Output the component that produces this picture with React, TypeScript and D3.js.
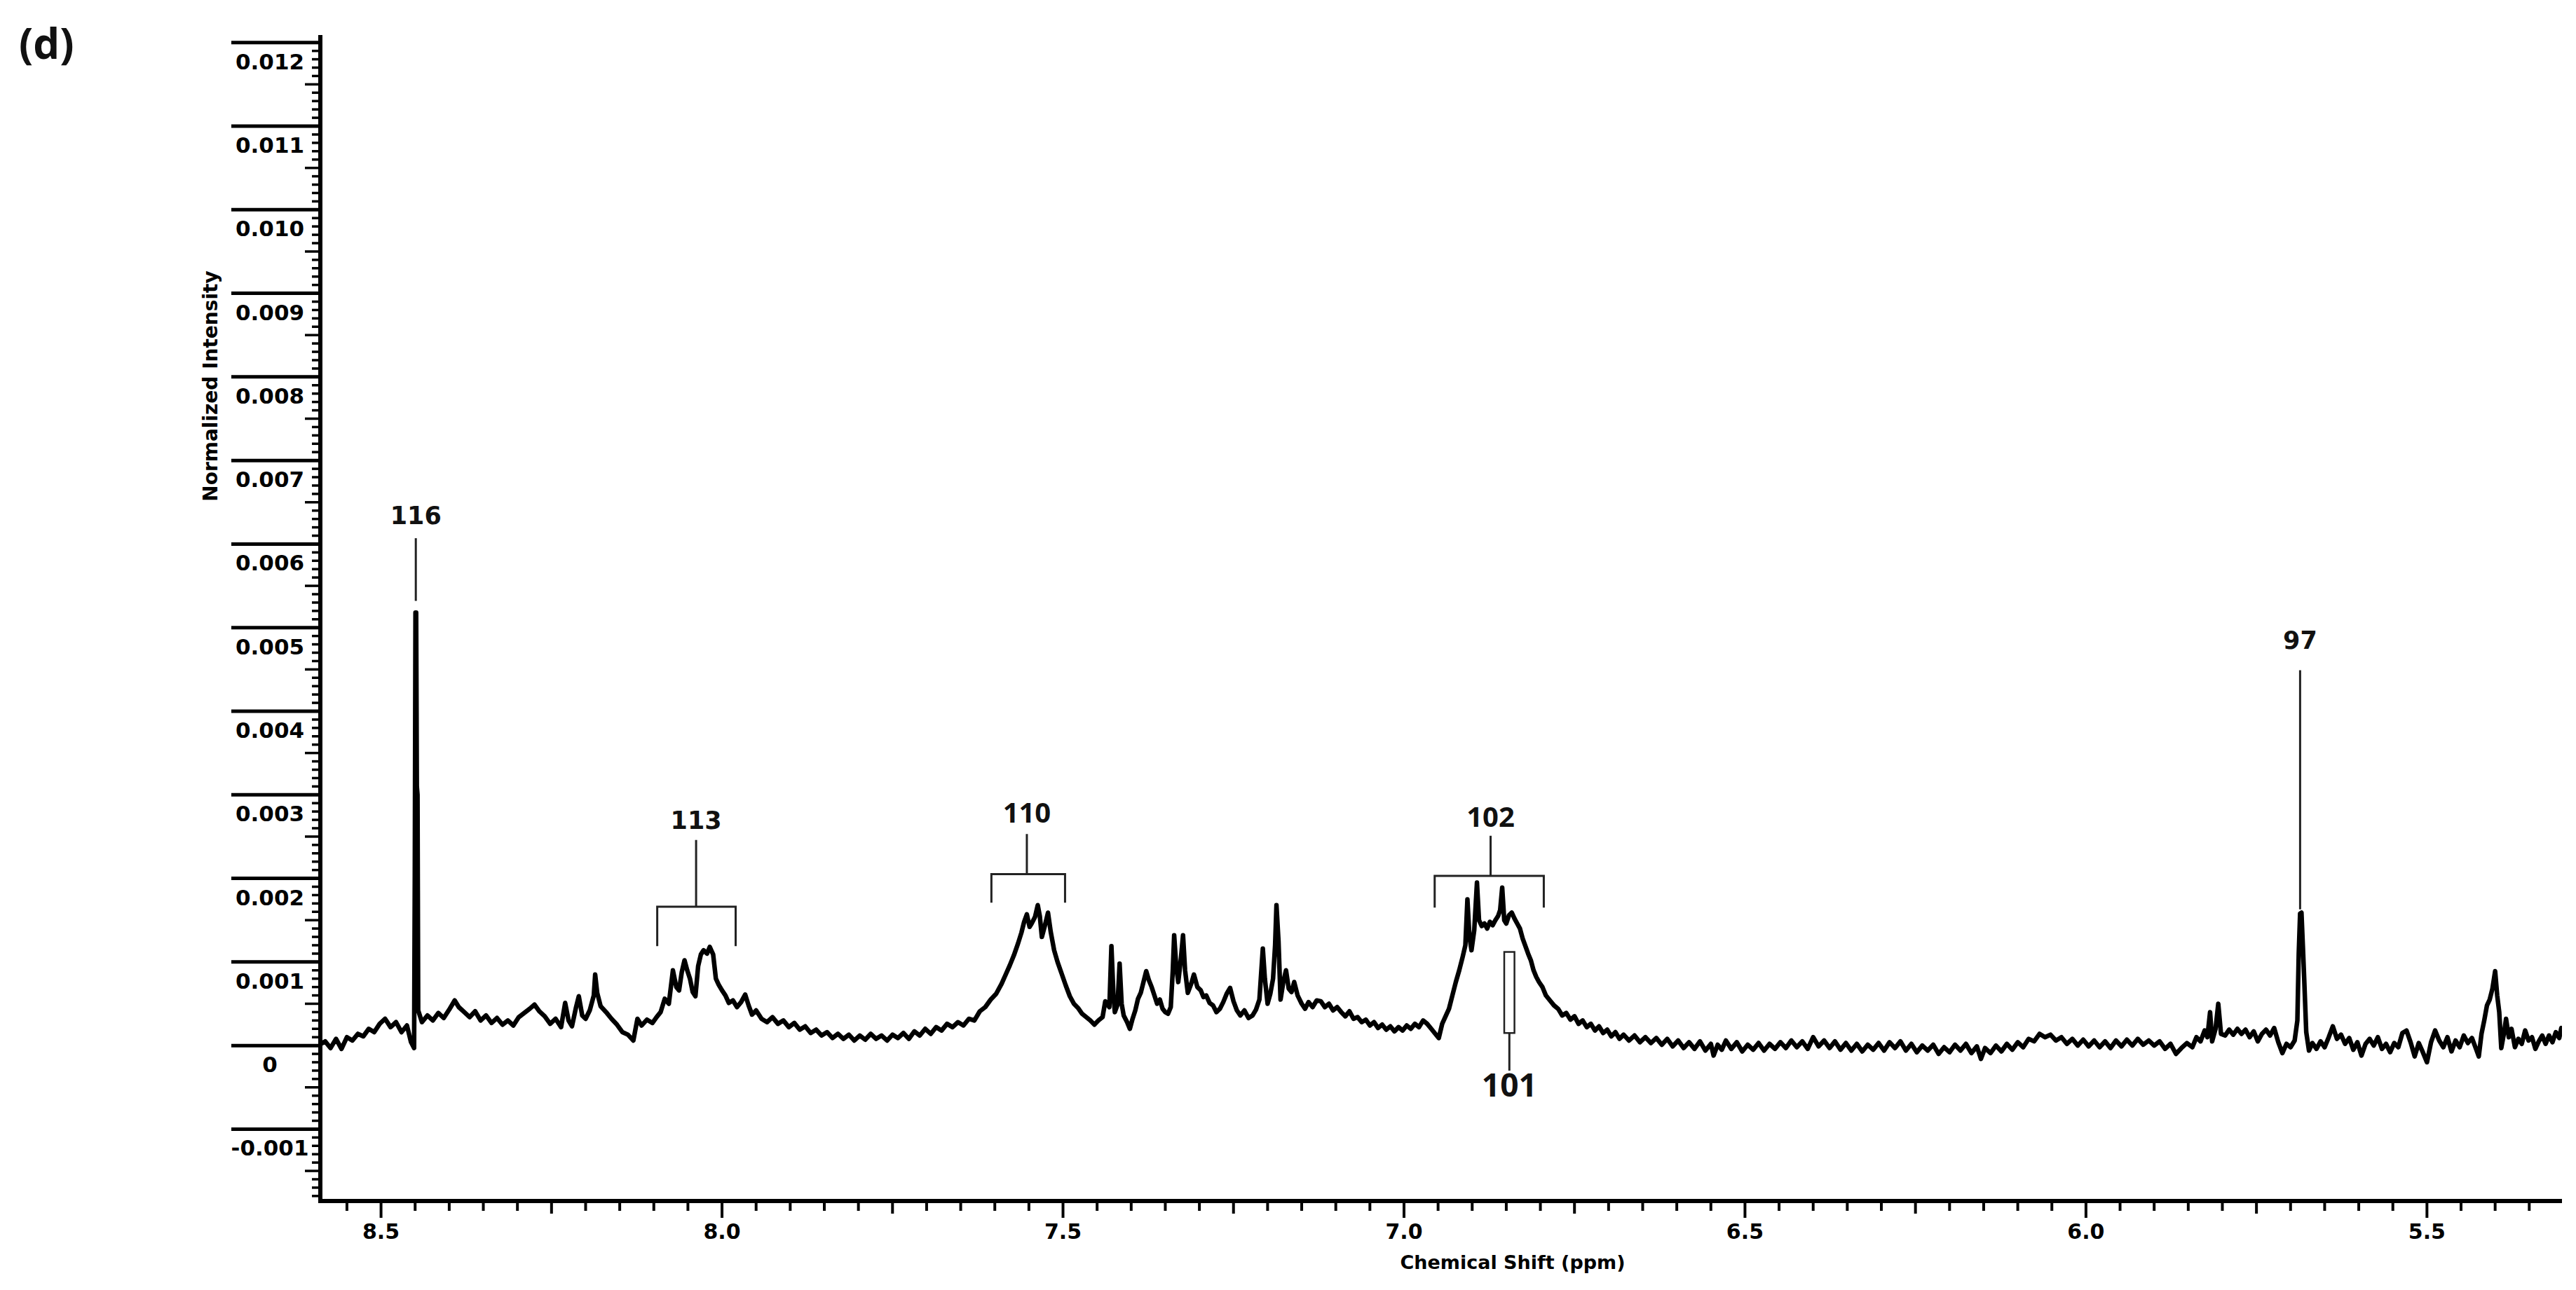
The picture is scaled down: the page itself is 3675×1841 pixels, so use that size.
import React from "react";
import * as d3 from "d3";

// ---------- axis definitions ----------
const xDomainPpm = [8.589, 5.302];
const yDomainIntensity = [-0.00186, 0.01209];

const xTickValues = [8.5, 8.0, 7.5, 7.0, 6.5, 6.0, 5.5];
const xTickLabels = ["8.5", "8.0", "7.5", "7.0", "6.5", "6.0", "5.5"];

const yTickValues = [-0.001, 0, 0.001, 0.002, 0.003, 0.004, 0.005, 0.006, 0.007, 0.008, 0.009, 0.01, 0.011, 0.012];
const yTickLabels = ["-0.001", "0", "0.001", "0.002", "0.003", "0.004", "0.005", "0.006", "0.007", "0.008", "0.009", "0.010", "0.011", "0.012"];

const xTitle = "Chemical Shift (ppm)";
const yTitle = "Normalized Intensity";
const panelLabel = "(d)";

// ---------- spectrum: [chemical shift (ppm), intensity in units of 1e-4] ----------
const INTENSITY_UNIT = 1e-4;

const specStart: [number, number][] = [
  [8.588, 0.2], [8.582, 0.5], [8.574, -0.3], [8.566, 0.8], [8.558, -0.4], [8.55, 1.0], [8.542, 0.6], [8.534, 1.4],
  [8.526, 1.1], [8.518, 2.0], [8.51, 1.6], [8.502, 2.6], [8.494, 3.2], [8.486, 2.2], [8.478, 2.8], [8.47, 1.6],
  [8.462, 2.4], [8.456, 0.4], [8.4515, -0.3], [8.4505, 20], [8.4495, 51.8], [8.4485, 51.8], [8.4475, 31],
  [8.4465, 30], [8.4455, 4.2],
];

const specUpfield116: [number, number][] = [
  [8.44, 2.8], [8.432, 3.6], [8.424, 3.0], [8.416, 3.9], [8.408, 3.3], [8.4, 4.3], [8.392, 5.4], [8.386, 4.6],
  [8.378, 4.0], [8.37, 3.4], [8.362, 4.1], [8.354, 3.0], [8.346, 3.6], [8.338, 2.7], [8.33, 3.3], [8.322, 2.5],
  [8.314, 3.0], [8.306, 2.4], [8.298, 3.4], [8.29, 3.9], [8.282, 4.4], [8.275, 4.9], [8.268, 4.1], [8.26, 3.5],
  [8.252, 2.6], [8.244, 3.2], [8.236, 2.2], [8.23, 5.1], [8.225, 3.0], [8.22, 2.3], [8.214, 4.6], [8.21, 5.9],
  [8.205, 3.6], [8.2, 3.2], [8.194, 4.2], [8.188, 6.0], [8.186, 8.5], [8.183, 6.3], [8.178, 4.7], [8.17, 4.0],
  [8.162, 3.2], [8.154, 2.5], [8.146, 1.6], [8.138, 1.3], [8.13, 0.6], [8.124, 3.2], [8.118, 2.4], [8.11, 3.1],
  [8.102, 2.7],
];

const spec113: [number, number][] = [
  [8.096, 3.4], [8.09, 4.0], [8.084, 5.6], [8.078, 5.0], [8.072, 9.0], [8.067, 7.0], [8.063, 6.6], [8.059, 8.8],
  [8.055, 10.2], [8.051, 9.0], [8.047, 8.0], [8.043, 6.4], [8.039, 5.9], [8.035, 9.5], [8.031, 10.9], [8.027, 11.4],
  [8.022, 11.0], [8.018, 11.8], [8.013, 10.9], [8.009, 8.0], [8.005, 7.3], [8.0, 6.6], [7.995, 6.0], [7.99, 5.1],
  [7.984, 5.4], [7.978, 4.6], [7.972, 5.2], [7.966, 6.1], [7.961, 4.8], [7.956, 3.7], [7.95, 4.2],
];

const specBaseline1: [number, number][] = [
  [7.942, 3.2], [7.934, 2.8], [7.926, 3.4], [7.918, 2.6], [7.91, 3.0], [7.902, 2.2], [7.894, 2.7], [7.886, 1.9],
  [7.878, 2.3], [7.87, 1.5], [7.862, 1.9], [7.854, 1.2], [7.846, 1.6], [7.838, 0.9], [7.83, 1.4], [7.822, 0.8],
  [7.814, 1.3], [7.806, 0.6], [7.798, 1.2], [7.79, 0.7], [7.782, 1.4], [7.774, 0.8], [7.766, 1.2], [7.758, 0.6],
  [7.75, 1.3], [7.742, 0.9], [7.734, 1.5], [7.726, 0.8], [7.718, 1.7], [7.71, 1.2], [7.702, 2.0], [7.694, 1.4],
  [7.686, 2.2], [7.678, 1.8], [7.67, 2.6], [7.662, 2.2], [7.654, 2.8], [7.646, 2.4], [7.638, 3.2], [7.63, 3.0],
];

const spec110: [number, number][] = [
  [7.622, 4.1], [7.614, 4.6], [7.606, 5.5], [7.598, 6.2], [7.59, 7.4], [7.584, 8.5], [7.578, 9.6], [7.572, 10.8],
  [7.566, 12.2], [7.561, 13.5], [7.557, 14.8], [7.553, 15.7], [7.549, 14.2], [7.546, 14.6], [7.541, 15.4],
  [7.537, 16.8], [7.534, 15.5], [7.531, 13.0], [7.527, 14.2], [7.522, 15.9], [7.518, 13.6], [7.513, 11.4],
  [7.508, 10.0], [7.502, 8.6], [7.496, 7.2], [7.49, 5.9], [7.484, 5.0], [7.478, 4.5], [7.472, 3.8], [7.466, 3.4],
  [7.46, 3.0], [7.454, 2.5],
];

const specAromatic: [number, number][] = [
  [7.448, 3.0], [7.442, 3.4], [7.438, 5.3], [7.432, 4.6], [7.429, 11.9], [7.426, 6.0], [7.424, 4.0], [7.42, 4.9],
  [7.417, 9.8], [7.414, 5.0], [7.411, 3.6], [7.406, 2.8], [7.402, 2.0], [7.398, 3.2], [7.394, 4.2], [7.39, 5.6],
  [7.386, 6.3], [7.382, 7.6], [7.378, 8.9], [7.374, 7.8], [7.37, 7.0], [7.366, 6.0], [7.362, 5.0], [7.358, 5.5],
  [7.354, 4.4], [7.35, 4.0], [7.346, 3.8], [7.342, 4.6], [7.339, 9.0], [7.337, 13.2], [7.334, 9.5], [7.331, 7.6],
  [7.327, 10.5], [7.324, 13.2], [7.321, 9.0], [7.317, 6.3], [7.312, 7.4], [7.308, 8.5], [7.303, 7.0], [7.298, 6.6],
  [7.294, 5.8], [7.29, 6.0], [7.285, 5.1], [7.28, 4.8], [7.275, 4.0], [7.27, 4.4], [7.265, 5.2], [7.26, 6.2],
  [7.255, 6.9], [7.25, 5.3], [7.245, 4.2], [7.24, 3.6], [7.234, 4.2], [7.228, 3.3], [7.222, 3.6], [7.217, 4.3],
  [7.212, 5.5], [7.207, 11.6], [7.204, 8.0], [7.2, 5.0], [7.196, 6.2], [7.192, 8.0], [7.189, 12.0], [7.187, 16.8],
  [7.184, 12.5], [7.181, 5.5], [7.177, 7.6], [7.173, 9.0], [7.169, 6.8], [7.165, 6.4], [7.161, 7.6], [7.156, 6.0],
  [7.15, 5.0], [7.145, 4.4], [7.14, 5.2], [7.134, 4.6],
];

const specBaseline2: [number, number][] = [
  [7.128, 5.4], [7.122, 5.3], [7.116, 4.6], [7.11, 5.0], [7.104, 4.2], [7.098, 4.6], [7.092, 4.0], [7.086, 3.5],
  [7.08, 4.1], [7.074, 3.2], [7.068, 3.4], [7.062, 2.8], [7.056, 3.1], [7.05, 2.4], [7.044, 2.8], [7.038, 2.1],
  [7.032, 2.5], [7.026, 1.9], [7.02, 2.3], [7.014, 1.7], [7.008, 2.2], [7.002, 1.8], [6.996, 2.4], [6.99, 2.0],
  [6.984, 2.6], [6.978, 2.2], [6.972, 3.0], [6.966, 2.6], [6.96, 2.0], [6.954, 1.4],
];

const spec102: [number, number][] = [
  [6.949, 0.9], [6.944, 2.6], [6.939, 3.5], [6.934, 4.4], [6.929, 6.0], [6.924, 7.6], [6.919, 9.0], [6.914, 10.6],
  [6.91, 12.0], [6.907, 17.5], [6.904, 13.0], [6.901, 11.4], [6.897, 13.8], [6.893, 19.5], [6.89, 15.0],
  [6.886, 14.3], [6.882, 14.6], [6.878, 14.0], [6.874, 14.8], [6.87, 14.4], [6.866, 15.0], [6.862, 15.5],
  [6.859, 16.2], [6.856, 18.9], [6.853, 15.0], [6.85, 14.6], [6.846, 15.6], [6.842, 15.9], [6.838, 15.2],
  [6.834, 14.6], [6.83, 14.0], [6.826, 12.8], [6.822, 11.9], [6.818, 11.0], [6.814, 10.2], [6.81, 9.0],
  [6.806, 8.2], [6.802, 7.6], [6.797, 7.0], [6.792, 6.0], [6.786, 5.4], [6.78, 4.8], [6.774, 4.4], [6.768, 3.6],
  [6.762, 3.9], [6.756, 3.1], [6.75, 3.5],
];

const specBaseline3: [number, number][] = [
  [6.744, 2.6], [6.738, 3.0], [6.732, 2.2], [6.726, 2.6], [6.72, 1.8], [6.714, 2.3], [6.708, 1.5], [6.702, 1.9],
  [6.696, 1.1], [6.69, 1.6], [6.684, 0.8], [6.678, 1.3], [6.67, 0.6], [6.662, 1.2], [6.654, 0.4], [6.646, 1.0],
  [6.638, 0.3], [6.63, 0.9], [6.622, 0.1], [6.614, 0.8], [6.606, -0.1], [6.598, 0.6], [6.59, -0.3], [6.582, 0.4],
  [6.574, -0.4], [6.566, 0.5], [6.558, -0.6], [6.55, 0.2], [6.546, -1.2], [6.54, 0.1], [6.534, -0.5], [6.528, 0.6],
  [6.52, -0.4], [6.512, 0.4], [6.504, -0.7], [6.496, 0.1], [6.488, -0.5], [6.48, 0.3], [6.472, -0.6], [6.464, 0.2],
  [6.456, -0.4], [6.448, 0.4], [6.44, -0.3], [6.432, 0.6], [6.424, -0.2], [6.416, 0.5], [6.408, -0.4], [6.4, 1.0],
  [6.392, -0.1], [6.384, 0.6], [6.376, -0.3], [6.368, 0.5], [6.36, -0.5], [6.352, 0.3], [6.344, -0.6], [6.336, 0.2],
  [6.328, -0.7], [6.32, 0.1], [6.312, -0.5], [6.304, 0.3], [6.296, -0.6], [6.288, 0.4], [6.28, -0.3], [6.272, 0.5],
  [6.264, -0.6], [6.256, 0.2], [6.248, -0.8], [6.24, 0.0], [6.232, -0.6], [6.224, 0.1], [6.216, -1.0], [6.208, -0.2],
  [6.2, -0.8], [6.192, 0.1], [6.184, -0.6], [6.176, 0.2], [6.168, -0.9], [6.16, -0.1], [6.154, -1.6], [6.148, -0.3],
  [6.14, -0.9], [6.132, 0.0], [6.124, -0.7], [6.116, 0.2], [6.108, -0.5], [6.1, 0.4], [6.092, -0.2], [6.084, 0.8],
  [6.076, 0.5], [6.068, 1.4], [6.06, 1.0], [6.052, 1.3], [6.044, 0.6], [6.036, 1.0], [6.028, 0.2], [6.02, 0.8],
  [6.012, 0.0], [6.004, 0.7], [5.996, -0.1], [5.988, 0.6], [5.98, -0.2], [5.972, 0.5], [5.964, -0.3], [5.956, 0.6],
  [5.948, -0.1], [5.94, 0.7], [5.932, 0.0], [5.924, 0.8], [5.916, 0.1], [5.908, 0.6], [5.9, 0.0], [5.892, 0.5],
  [5.884, -0.4], [5.876, 0.2], [5.868, -1.0], [5.86, -0.3], [5.852, 0.3], [5.844, -0.2], [5.838, 1.0], [5.832, 0.5],
  [5.826, 1.8], [5.822, 1.0], [5.818, 4.0], [5.815, 0.5], [5.81, 2.0], [5.806, 5.0], [5.802, 1.4], [5.796, 1.2],
  [5.79, 1.9], [5.784, 1.3], [5.778, 2.0], [5.772, 1.4], [5.766, 1.9], [5.76, 1.0], [5.754, 1.7], [5.748, 0.5],
  [5.742, 1.4], [5.736, 1.9], [5.73, 1.2], [5.724, 2.1], [5.718, 0.4], [5.712, -0.9], [5.706, 0.2], [5.7, -0.2],
];

const spec97: [number, number][] = [
  [5.694, 0.6], [5.69, 3.0], [5.688, 11.0], [5.686, 15.8], [5.684, 15.9], [5.682, 12.0], [5.68, 8.0],
  [5.677, 1.6], [5.673, -0.6],
];

const specEnd: [number, number][] = [
  [5.668, 0.3], [5.662, -0.4], [5.656, 0.5], [5.65, -0.2], [5.644, 1.0], [5.638, 2.3], [5.632, 0.8], [5.626, 1.3],
  [5.62, 0.2], [5.614, 0.9], [5.608, -0.5], [5.602, 0.4], [5.596, -1.2], [5.59, 0.2], [5.584, 0.8], [5.578, 0.0],
  [5.572, 1.0], [5.566, -0.4], [5.56, 0.2], [5.554, -0.8], [5.548, 0.3], [5.542, -0.2], [5.536, 1.5], [5.53, 1.8],
  [5.524, 0.4], [5.518, -1.3], [5.512, 0.3], [5.506, -0.8], [5.5, -2.0], [5.494, 0.4], [5.488, 1.8], [5.482, 0.6],
  [5.476, -0.2], [5.47, 1.0], [5.464, -0.7], [5.458, 0.6], [5.452, -0.2], [5.446, 1.2], [5.44, 0.3], [5.434, 0.9],
  [5.428, -0.4], [5.424, -1.3], [5.42, 1.4], [5.416, 3.0], [5.412, 4.8], [5.408, 5.5], [5.404, 6.8], [5.4, 8.9],
  [5.397, 6.0], [5.394, 4.0], [5.391, -0.3], [5.387, 1.5], [5.384, 3.2], [5.38, 1.0], [5.376, 2.0], [5.371, -0.2],
  [5.366, 0.8], [5.361, 0.2], [5.356, 1.8], [5.351, 0.6], [5.346, 1.0], [5.341, -0.4], [5.336, 0.5], [5.331, 1.2],
  [5.326, 0.2], [5.321, 1.2], [5.316, 0.4], [5.311, 1.6], [5.306, 0.9], [5.303, 2.1],
];

const spectrumSegments = [
  specStart, specUpfield116, spec113, specBaseline1, spec110, specAromatic,
  specBaseline2, spec102, specBaseline3, spec97, specEnd,
];

// ---------- peak annotations (data coordinates) ----------
const singleAnnotations = [
  { label: "116", ppm: 8.449, labelAt: 0.00624, lineTop: 0.00607, lineBottom: 0.00532 },
  { label: "97", ppm: 5.686, labelAt: 0.00475, lineTop: 0.00449, lineBottom: 0.00163 },
];

const bracketAnnotations = [
  { label: "113", center: 8.038, left: 8.095, right: 7.98, labelAt: 0.00259, stemTop: 0.00246, bar: 0.00166, legEnd: 0.00119, font: "wide" },
  { label: "110", center: 7.553, left: 7.605, right: 7.497, labelAt: 0.00267, stemTop: 0.00253, bar: 0.00205, legEnd: 0.00171, font: "narrow" },
  { label: "102", center: 6.873, left: 6.955, right: 6.795, labelAt: 0.00262, stemTop: 0.00251, bar: 0.00203, legEnd: 0.00165, font: "narrow" },
];

const boxAnnotations = [
  { label: "101", left: 6.853, right: 6.838, top: 0.00112, bottom: 0.00015, stemEnd: -0.0003, labelAt: -0.00061 },
];

// ---------- layout ----------
const W = 3675;
const H = 1841;
const plotLeft = 457;
const plotRight = 3655;
const plotTop = 50;
const plotBottom = 1714;

export default function App() {
  const x = d3.scaleLinear().domain(xDomainPpm).range([plotLeft, plotRight]);
  const y = d3.scaleLinear().domain(yDomainIntensity).range([plotBottom, plotTop]);

  const points: [number, number][] = spectrumSegments.flat();
  const line = d3
    .line<[number, number]>()
    .x((d) => x(d[0]))
    .y((d) => y(d[1] * INTENSITY_UNIT));

  // minor ticks for the y axis every 0.0001, x axis every 0.05 ppm
  const yMinor = d3.range(
    Math.ceil(yDomainIntensity[0] / 1e-4),
    Math.floor(yDomainIntensity[1] / 1e-4) + 1
  );
  const xMinor = d3.range(
    Math.ceil(xDomainPpm[1] * 20),
    Math.floor(xDomainPpm[0] * 20) + 1
  );

  const tickFont = "'DejaVu Sans', Verdana, sans-serif";

  return (
    <svg
      width={W}
      height={H}
      viewBox={`0 0 ${W} ${H}`}
      style={{ position: "absolute", left: 0, top: 0, background: "#fff", display: "block" }}
    >
      <rect x={0} y={0} width={W} height={H} fill="#fff" />

      {/* panel label */}
      <text x={27} y={84} fontFamily="'Open Sans', sans-serif" fontWeight={700} fontSize={60} fill="#111">
        {panelLabel}
      </text>

      {/* spectrum */}
      <defs>
        <clipPath id="plotClip">
          <rect x={plotLeft} y={plotTop} width={plotRight - plotLeft} height={plotBottom - plotTop} />
        </clipPath>
      </defs>
      <path
        d={line(points) || ""}
        fill="none"
        stroke="#000"
        strokeWidth={6.5}
        strokeLinejoin="round"
        strokeLinecap="round"
        clipPath="url(#plotClip)"
      />

      {/* y axis */}
      {yMinor.map((k) => {
        const v = k * 1e-4;
        const yy = y(v);
        const isMajor = k % 10 === 0;
        const isMid = k % 5 === 0;
        const x1 = isMajor ? 330 : isMid ? plotLeft - 22 : plotLeft - 12;
        return (
          <line key={"ym" + k} x1={x1} x2={plotLeft} y1={yy} y2={yy} stroke="#000" strokeWidth={isMajor ? 5 : 3.5} />
        );
      })}
      {yTickValues.map((v, i) => (
        <text
          key={"yl" + i}
          x={385}
          y={y(v) + 38}
          textAnchor="middle"
          fontFamily={tickFont}
          fontWeight={700}
          fontSize={31}
          fill="#000"
        >
          {yTickLabels[i]}
        </text>
      ))}
      <line x1={plotLeft} x2={plotLeft} y1={plotTop} y2={plotBottom + 2} stroke="#000" strokeWidth={6} />
      <text
        transform={`translate(310, 551) rotate(-90)`}
        textAnchor="middle"
        fontFamily={tickFont}
        fontWeight={700}
        fontSize={28}
        fill="#000"
      >
        {yTitle}
      </text>

      {/* x axis */}
      <line x1={plotLeft - 3} x2={plotRight} y1={plotBottom} y2={plotBottom} stroke="#000" strokeWidth={6} />
      {xMinor.map((k) => {
        const xx = x(k / 20);
        const isMajor = k % 10 === 0;
        const isMid = k % 5 === 0;
        const len = isMajor ? 24 : isMid ? 18 : 14;
        return <line key={"xm" + k} x1={xx} x2={xx} y1={plotBottom} y2={plotBottom + len} stroke="#000" strokeWidth={4} />;
      })}
      {xTickValues.map((v, i) => (
        <text
          key={"xl" + i}
          x={x(v)}
          y={1768}
          textAnchor="middle"
          fontFamily={tickFont}
          fontWeight={700}
          fontSize={30}
          fill="#000"
        >
          {xTickLabels[i]}
        </text>
      ))}
      <text x={2158} y={1811} textAnchor="middle" fontFamily={tickFont} fontWeight={700} fontSize={27} fill="#000">
        {xTitle}
      </text>

      {/* single-line peak labels */}
      {singleAnnotations.map((a) => (
        <g key={a.label}>
          <line x1={x(a.ppm)} x2={x(a.ppm)} y1={y(a.lineTop)} y2={y(a.lineBottom)} stroke="#222" strokeWidth={3} />
          <text x={x(a.ppm)} y={y(a.labelAt)} textAnchor="middle" fontFamily={tickFont} fontWeight={700} fontSize={35} fill="#111">
            {a.label}
          </text>
        </g>
      ))}

      {/* bracket labels */}
      {bracketAnnotations.map((a) => (
        <g key={a.label}>
          <path
            d={`M${x(a.left)},${y(a.legEnd)} V${y(a.bar)} H${x(a.right)} V${y(a.legEnd)} M${x(a.center)},${y(a.bar)} V${y(a.stemTop)}`}
            fill="none"
            stroke="#222"
            strokeWidth={3}
          />
          <text
            x={x(a.center)}
            y={y(a.labelAt)}
            textAnchor="middle"
            fontFamily={a.font === "wide" ? tickFont : "'Open Sans', sans-serif"}
            fontWeight={700}
            fontSize={a.font === "wide" ? 35 : 40}
            fill="#111"
          >
            {a.label}
          </text>
        </g>
      ))}

      {/* boxed label */}
      {boxAnnotations.map((a) => {
        const cx = (x(a.left) + x(a.right)) / 2;
        return (
          <g key={a.label}>
            <rect
              x={x(a.left)}
              y={y(a.top)}
              width={x(a.right) - x(a.left)}
              height={y(a.bottom) - y(a.top)}
              fill="#fff"
              stroke="#222"
              strokeWidth={2.5}
            />
            <line x1={cx} x2={cx} y1={y(a.bottom)} y2={y(a.stemEnd)} stroke="#222" strokeWidth={3} />
            <text x={cx} y={y(a.labelAt)} textAnchor="middle" fontFamily="'Open Sans', sans-serif" fontWeight={700} fontSize={46} fill="#111">
              {a.label}
            </text>
          </g>
        );
      })}
    </svg>
  );
}
